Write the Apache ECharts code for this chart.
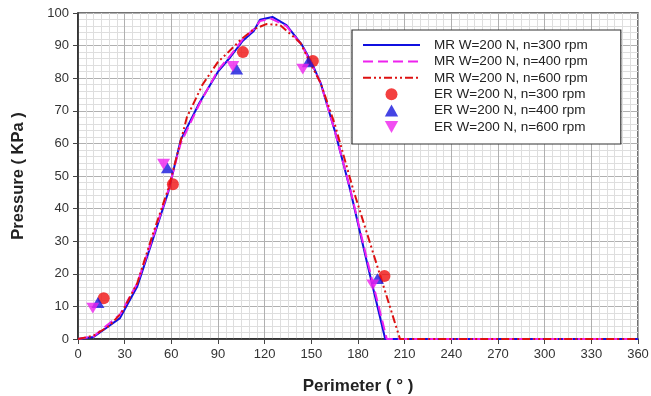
<!DOCTYPE html>
<html><head><meta charset="utf-8">
<script src="https://cdn.jsdelivr.net/npm/echarts@6/dist/echarts.min.js"></script>
<style>html,body{margin:0;padding:0;background:#fff}#c{width:651px;height:396px}</style>
</head><body><div id="c"></div>
<script>
// Model results (MR) - perimeter (deg) and pressure (KPa)
const mr300X = [0, 10, 27, 38, 48, 58, 66, 78, 90, 98, 106, 113, 117, 125, 134, 144, 150, 156, 165, 175, 186, 197.5, 210, 360];
const mr300Y = [0, 0.6, 6.4, 16, 30.4, 45, 61, 72.4, 82, 86.5, 91.5, 94.5, 97.9, 98.8, 96.3, 90.2, 85, 78.5, 64, 45.7, 23, 0, 0, 0];
const mr400X = [0, 10, 27, 38, 48, 58, 66, 78, 90, 98, 106, 113, 117, 124, 134, 144, 150, 156, 165, 175, 186, 198.5, 210, 360];
const mr400Y = [0, 0.8, 7.5, 17, 31, 45.5, 60, 72, 82.5, 87, 92, 95, 97.5, 98.3, 96, 90, 84.5, 78.5, 64, 46, 24, 0, 0, 0];
const mr600X = [0, 10, 20, 28, 38, 48, 58, 70, 80, 90, 96, 105, 113, 121, 130, 143, 150, 156, 165, 177, 190, 207, 360];
const mr600Y = [0, 1, 4, 8, 17, 32, 46, 68, 78, 85, 87.7, 92, 95, 96.6, 96.3, 90.8, 84, 78.5, 66, 45.7, 26, 0, 0];
// Experimental results (ER)
const er300X = [16.5, 61, 106, 151, 197];
const er300Y = [12.5, 47.5, 88, 85.3, 19.3];
const er400X = [12.8, 57.5, 102, 148, 192.5];
const er400Y = [11.2, 52.5, 82.8, 85, 18.5];
const er600X = [9.5, 55, 99.5, 144.5, 189.5];
const er600Y = [9.5, 53.6, 83.6, 82.8, 16.6];
const seriesNames = ['MR W=200 N, n=300 rpm', 'MR W=200 N, n=400 rpm', 'MR W=200 N, n=600 rpm',
                     'ER W=200 N, n=300 rpm', 'ER W=200 N, n=400 rpm', 'ER W=200 N, n=600 rpm'];
const xTicks = [0, 30, 60, 90, 120, 150, 180, 210, 240, 270, 300, 330, 360];
const yTicks = [0, 10, 20, 30, 40, 50, 60, 70, 80, 90, 100];

const pairs = (xs, ys) => xs.map((x, i) => [x, ys[i]]);
const FONT = '"Liberation Sans", Arial, sans-serif';
const upTri = 'path://M5,0 L10,9 L0,9 Z';
const downTri = 'path://M0,0 L10,0 L5,9 Z';
const erIcons = ['circle', upTri, downTri];

const chart = echarts.init(document.getElementById('c'), null, {renderer: 'canvas'});
chart.setOption({
  animation: false,
  backgroundColor: '#fff',
  grid: {left: 78, right: 13, top: 13, bottom: 57, show: true, borderColor: '#444', borderWidth: 1.5,
         containLabel: false, outerBoundsMode: 'none'},
  legend: {
    orient: 'vertical', left: 352, top: 30,
    padding: [8, 33, 10, 10], itemGap: 2.4, itemWidth: 57, itemHeight: 12,
    symbolKeepAspect: true,
    backgroundColor: '#fff', borderColor: '#333', borderWidth: 1.2,
    textStyle: {fontFamily: FONT, fontSize: 13.5, color: '#222', padding: [0, 0, 0, 9]},
    data: seriesNames.map((n, i) => i < 3 ? {name: n, itemStyle: {opacity: 0}} : {name: n, icon: erIcons[i - 3]})
  },
  xAxis: {
    type: 'value', min: xTicks[0], max: xTicks[xTicks.length - 1], interval: 30,
    name: 'Perimeter ( ° )', nameLocation: 'middle', nameGap: 39,
    nameTextStyle: {fontFamily: FONT, fontSize: 17, fontWeight: 'bold', color: '#222'},
    axisLine: {show: true, lineStyle: {color: '#222', width: 1.5}},
    axisTick: {show: true, length: 5, lineStyle: {color: '#444'}},
    axisLabel: {fontFamily: FONT, fontSize: 13, color: '#333', margin: 9},
    splitLine: {show: true, lineStyle: {color: '#b0b0b0', width: 1}},
    minorTick: {show: false, splitNumber: 6},
    minorSplitLine: {show: true, lineStyle: {color: '#dedede', width: 1}}
  },
  yAxis: {
    type: 'value', min: yTicks[0], max: yTicks[yTicks.length - 1], interval: 10,
    name: 'Pressure ( KPa )', nameLocation: 'middle', nameGap: 51,
    nameTextStyle: {fontFamily: FONT, fontSize: 16.5, fontWeight: 'bold', color: '#222'},
    axisLine: {show: true, lineStyle: {color: '#222', width: 1.5}},
    axisTick: {show: true, length: 5, lineStyle: {color: '#444'}},
    axisLabel: {fontFamily: FONT, fontSize: 13, color: '#333', margin: 9},
    splitLine: {show: true, lineStyle: {color: '#b0b0b0', width: 1}},
    minorTick: {show: false, splitNumber: 5},
    minorSplitLine: {show: true, lineStyle: {color: '#dedede', width: 1}}
  },
  series: [
    {name: seriesNames[0], type: 'line', data: pairs(mr300X, mr300Y), showSymbol: false, symbol: 'none',
     color: '#1010e0', lineStyle: {color: '#1010e0', width: 2, type: 'solid'}, z: 3},
    {name: seriesNames[1], type: 'line', data: pairs(mr400X, mr400Y), showSymbol: false, symbol: 'none',
     color: '#ee22ee', lineStyle: {color: '#ee22ee', width: 2, type: [10, 5]}, z: 4},
    {name: seriesNames[2], type: 'line', data: pairs(mr600X, mr600Y), showSymbol: false, symbol: 'none',
     color: '#dd1111', lineStyle: {color: '#dd1111', width: 2, type: [8, 3, 2, 3, 2, 3]}, z: 5},
    {name: seriesNames[3], type: 'scatter', data: pairs(er300X, er300Y), symbol: 'circle', symbolSize: 12,
     symbolKeepAspect: true, itemStyle: {color: '#f01010'}, z: 6},
    {name: seriesNames[4], type: 'scatter', data: pairs(er400X, er400Y), symbol: upTri, symbolSize: [13, 12],
     symbolKeepAspect: true, itemStyle: {color: '#1515dd'}, z: 7},
    {name: seriesNames[5], type: 'scatter', data: pairs(er600X, er600Y), symbol: downTri, symbolSize: [13, 12],
     symbolKeepAspect: true, itemStyle: {color: '#ee22ee'}, z: 8}
  ]
});
</script>
</body></html>
